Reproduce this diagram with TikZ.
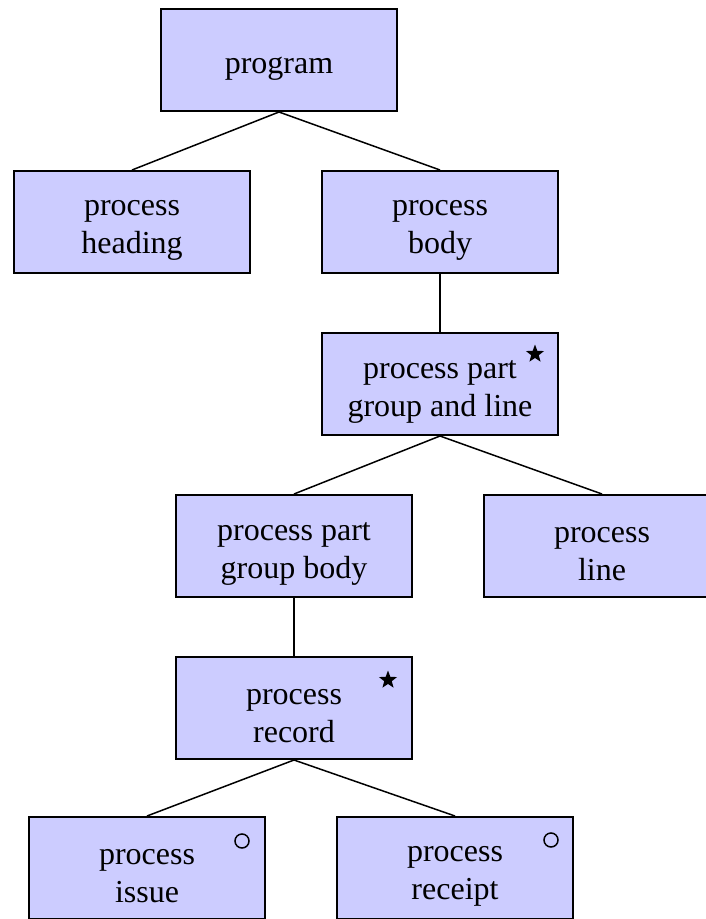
\documentclass[tikz,border=0pt]{standalone}
\usepackage{fontspec}
\setmainfont{Liberation Serif}
\usetikzlibrary{shapes.geometric}
\definecolor{boxfill}{RGB}{204,204,255}
\begin{document}
\begin{tikzpicture}[x=1pt,y=-1pt,
  box/.style={draw=black, line width=2pt, fill=boxfill, rectangle,
    minimum width=236pt, minimum height=102pt, inner sep=0pt},
  txt/.style={inner sep=0pt, align=center,
    font=\fontsize{32}{38}\selectfont},
  link/.style={line width=1.5pt, black},
  starmark/.style={star, star points=5, star point ratio=2.4, fill=black,
    draw=none, minimum size=19pt, inner sep=0pt},
  ringmark/.style={circle, draw=black, line width=1.5pt, fill=none,
    minimum size=14pt, inner sep=0pt}]
\useasboundingbox (0,0) rectangle (705,919);

% boxes
\node[box] (prog) at (279,60)  {};
\node[box] (head) at (132,222) {};
\node[box] (body) at (440,222) {};
\node[box] (pgl)  at (440,384) {};
\node[box] (pgb)  at (294,546) {};
\node[box] (line) at (602,546) {};
\node[box] (rec)  at (294,708) {};
\node[box] (iss)  at (147,868) {};
\node[box] (rcp)  at (455,868) {};

% box texts, set a little below the box centres
\node[txt] (progT) at ([yshift=-9pt]prog.center) {program};
\node[txt] (headT) at ([yshift=-8pt]head.center) {process\\heading};
\node[txt] (bodyT) at ([yshift=-8pt]body.center) {process\\body};
\node[txt] (pglT)  at ([yshift=-8pt]pgl.center)  {process part\\group and line};
\node[txt] (pgbT)  at ([yshift=-8pt]pgb.center)  {process part\\group body};
\node[txt] (lineT) at ([yshift=-8pt]line.center) {process\\line};
\node[txt] (recT)  at ([yshift=-8pt]rec.center)  {process\\record};
\node[txt] (issT)  at ([yshift=-8pt]iss.center)  {process\\issue};
\node[txt] (rcpT)  at ([yshift=-8pt]rcp.center)  {process\\receipt};

% iteration and selection markers
\node[starmark] (pglstar) at (535,354) {};
\node[starmark] (recstar) at (388,680) {};
\node[ringmark] (issring) at (242,841) {};
\node[ringmark] (rcpring) at (551,840) {};

% connectors
\draw[link] (prog.south) -- (head.north);
\draw[link] (prog.south) -- (body.north);
\draw[link] (body.south) -- (pgl.north);
\draw[link] (pgl.south) -- (pgb.north);
\draw[link] (pgl.south) -- (line.north);
\draw[link] (pgb.south) -- (rec.north);
\draw[link] (rec.south) -- (iss.north);
\draw[link] (rec.south) -- (rcp.north);
\end{tikzpicture}
\end{document}
